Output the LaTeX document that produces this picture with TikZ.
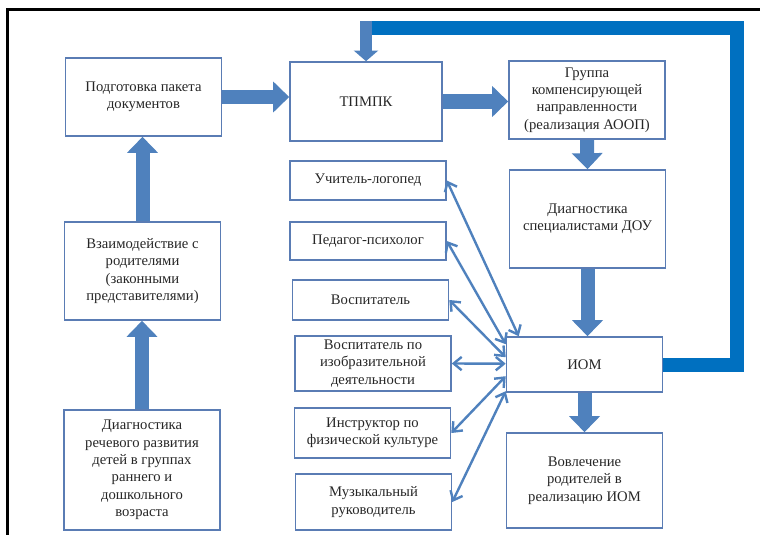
\documentclass[tikz,border=0pt]{standalone}
\usepackage{fontspec}
\setmainfont{Liberation Serif}
\usepackage{tikz}
\usetikzlibrary{calc}
\usetikzlibrary{arrows.meta}

\definecolor{steel}{HTML}{4F81BD}
\definecolor{loopblue}{HTML}{0070C0}
\definecolor{boxline}{HTML}{5A7CB4}
\definecolor{ink}{HTML}{262626}

\begin{document}
\begin{tikzpicture}[x=0.75pt,y=-0.75pt,
    box/.style={draw=boxline,line width=1.2pt,text=ink,align=center,minimum width=117pt,inner sep=2pt,font=\fontsize{11}{13}\selectfont},
    fat/.style={steel,line width=10.5pt,-{Triangle[width=22.5pt,length=12pt]}},
    link/.style={steel,line width=1.8pt,{Straight Barb[length=6pt,width=10pt]}-{Straight Barb[length=6pt,width=10pt]}}]
\useasboundingbox (0,0) rectangle (760,535);
\draw[line width=2.25pt] (760,10) -- (7,10) -- (7,535);

            \node[box,minimum height=58.5pt] (paket) at (143.5,97) {Подготовка пакета\\документов};
            \node[box,minimum height=59.25pt,minimum width=114pt] (tpmpk) at (366,101.5) {ТПМПК};
            \node[box,minimum height=58.5pt] (gruppa) at (587,100) {Группа\\компенсирующей\\направленности\\(реализация АООП)};
            \node[box,minimum height=73.5pt] (diag) at (587.5,219) {Диагностика\\специалистами ДОУ};
            \node[box,minimum height=41.25pt] (iom) at (584.5,364.5) {ИОМ};
            \node[box,minimum height=71.25pt] (vovl) at (584.5,480.5) {Вовлечение\\родителей в\\реализацию ИОМ};
            \node[box,minimum height=73.5pt] (vzaim) at (142.5,271) {Взаимодействие с\\родителями\\(законными\\представителями)};
            \node[box,minimum height=90pt] (rech) at (142,470) {Диагностика\\речевого развития\\детей в группах\\раннего и\\дошкольного\\возраста};

            \node[box,minimum height=29.25pt] (logoped) at (368,180.5) {Учитель-логопед};
            \node[box,minimum height=28.5pt] (psiholog) at (368,241) {Педагог-психолог};
            \node[box,minimum height=30pt] (vospit) at (370.5,300) {Воспитатель};
            \node[box,minimum height=41.25pt] (izo) at (373,363.5) {Воспитатель по\\изобразительной\\деятельности};
            \node[box,minimum height=37.5pt] (instr) at (372.5,433) {Инструктор по\\физической культуре};
            \node[box,minimum height=42pt] (muz) at (373.5,502) {Музыкальный\\руководитель};

            \draw[fat] (paket.east) -- (paket.east -| tpmpk.west);
            \draw[fat] (tpmpk.east) -- (tpmpk.east -| gruppa.west);
            \draw[fat] (gruppa.south) -- (diag.north);
            \draw[fat] (diag.south) -- (diag.south |- iom.north);
            \draw[fat] (iom.south) -- (vovl.north);
            \draw[fat] (vzaim.north) -- (vzaim.north |- paket.south);
            \draw[fat] (rech.north) -- (rech.north |- vzaim.south);

            \coordinate (corner) at (737,28);
            \draw[loopblue,line width=10.5pt] (iom.east) -| (corner) -- (corner -| tpmpk.north);
            \draw[fat,line width=9pt,-{Triangle[width=18pt,length=8pt]}] (tpmpk.north |- 0,21) -- (tpmpk.north);

            \draw[link] (logoped.east) -- ($(iom.north west)+(13,0)$);
            \foreach \n/\dy in {psiholog/8,vospit/21,izo/27.5,instr/40,muz/55}{
            \draw[link] (\n.east) -- ($(iom.north west)+(0,\dy)$);
            }

        \end{tikzpicture}
\end{document}
